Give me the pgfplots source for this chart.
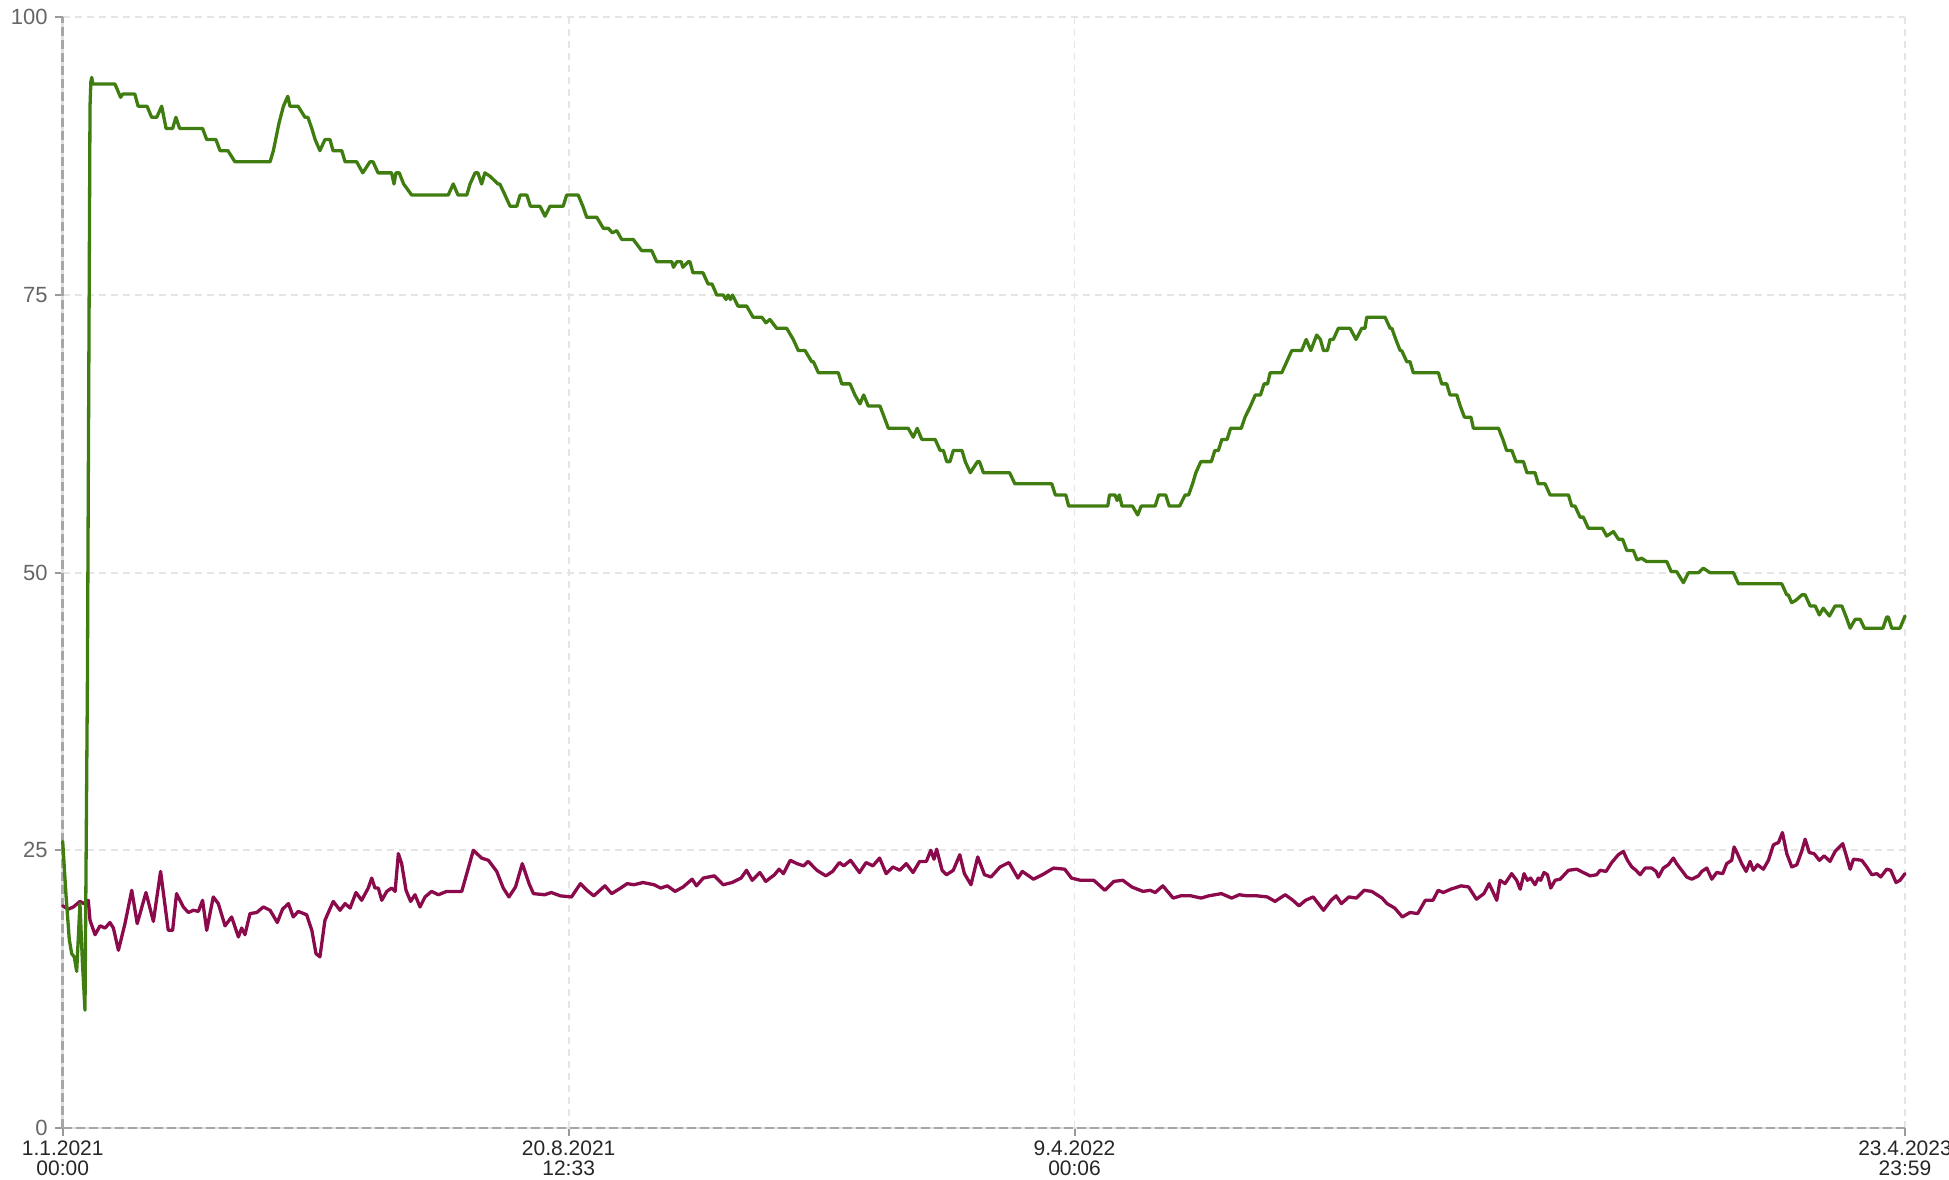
\documentclass[border=0pt]{standalone}
\usepackage{fontspec}
\setmainfont{Liberation Sans}
\usepackage{pgfplots}
\pgfplotsset{compat=1.18}
\definecolor{gline}{RGB}{63,125,17}
\definecolor{rline}{RGB}{138,10,75}
\newcommand{\yfont}{\fontsize{11}{13}\selectfont}
\newcommand{\xfont}{\fontsize{10.5}{10}\selectfont}
\begin{document}
\begin{tikzpicture}
\useasboundingbox (-31.35pt,-26pt) rectangle (943.2pt,564pt);
\begin{axis}[
  scale only axis, width=921.2pt, height=555.3pt,
  xmin=0, xmax=843, ymin=0, ymax=100,
  axis lines=left,
  axis line style={-, draw=black!35, line width=1.4pt, dash pattern=on 4.5pt off 2pt,
    preaction={draw=black!12, solid, line width=1.4pt}},
  xtick={0,231.523,463.004,842.999},
  xticklabels={{1.1.2021\\00:00},{20.8.2021\\12:33},{9.4.2022\\00:06},{23.4.2023\\23:59}},
  xticklabel style={align=center, font=\xfont, text=black!85, yshift=1pt},
  ytick={0,25,50,75,100},
  yticklabel style={font=\yfont, text=black!60},
  /pgf/number format/assume math mode=true,
  tick align=outside, major tick length=4pt,
  tick style={draw=black!40, line width=1pt},
  grid=major,
  major grid style={draw=black!10, line width=0.9pt, dash pattern=on 3.5pt off 2.5pt},
  clip=false,
]
\addplot[rline, line width=1.65pt, line join=round, line cap=round, mark=none] coordinates {
(0,20.0) (2.6,19.7) (4.9,19.9) (7.9,20.4) (9.7,20.2) (11.7,20.5) (12.5,18.7) (14.8,17.4) (17.1,18.2) (19.4,18.0) (21.6,18.5) (23.2,18.0) (25.5,16.0) (28.5,18.4) (31.6,21.4) (34.1,18.4) (38.1,21.2) (41.5,18.6) (44.8,23.1) (48.3,17.8) (50.3,17.8) (52.1,21.1) (55.2,19.9) (57.5,19.4) (59.8,19.6) (62.1,19.5) (64.0,20.5) (65.9,17.8) (68.9,20.8) (71.2,20.2) (74.3,18.2) (77.3,19.0) (80.4,17.2) (81.9,18.0) (83.4,17.4) (85.7,19.3) (88.8,19.4) (91.8,19.9) (94.9,19.6) (98.2,18.5) (100.6,19.7) (103.3,20.2) (105.5,19.0) (107.8,19.5) (111.6,19.2) (114.0,17.8) (115.9,15.7) (117.7,15.4) (120.0,18.7) (123.8,20.4) (126.9,19.6) (129.2,20.2) (131.5,19.8) (134.2,21.2) (136.8,20.5) (139.8,21.6) (141.4,22.5) (142.9,21.6) (144.4,21.6) (146.0,20.5) (148.3,21.3) (150.5,21.6) (152.1,21.3) (153.6,24.7) (155.1,23.8) (157.1,21.4) (159.2,20.4) (161.2,21.0) (163.5,19.9) (165.8,20.8) (168.8,21.3) (171.9,21.0) (175.7,21.3) (182.6,21.3) (187.9,25.0) (191.7,24.3) (194.8,24.1) (198.6,23.1) (201.6,21.6) (204.2,20.8) (207.2,21.7) (210.3,23.8) (213.4,22.0) (215.4,21.1) (220.5,21.0) (223.6,21.2) (227.7,20.9) (232.8,20.8) (236.9,22.0) (239.9,21.4) (243.0,20.9) (248.1,21.8) (251.2,21.1) (255.3,21.6) (258.3,22.0) (261.4,21.9) (265.5,22.1) (270.6,21.9) (273.6,21.6) (276.7,21.8) (280.2,21.3) (283.9,21.7) (288.0,22.4) (290.0,21.8) (293.1,22.5) (298.2,22.7) (302.2,21.9) (306.3,22.1) (310.4,22.5) (312.9,23.2) (315.5,22.3) (319.0,23.0) (321.7,22.2) (325.7,22.8) (327.8,23.3) (329.8,22.9) (332.9,24.1) (336.0,23.8) (339.0,23.6) (341.1,24.0) (345.1,23.2) (349.2,22.7) (352.3,23.1) (355.4,23.9) (357.4,23.6) (360.5,24.1) (364.6,23.0) (367.6,23.9) (370.7,23.6) (373.8,24.3) (376.8,22.9) (379.9,23.5) (383.0,23.2) (386.0,23.8) (389.1,23.0) (392.1,24.0) (395.2,24.0) (397.2,25.0) (398.7,24.2) (399.9,25.1) (402.4,23.2) (404.4,22.8) (407.5,23.2) (410.5,24.6) (412.6,22.9) (415.6,21.9) (418.7,24.4) (421.8,22.8) (424.8,22.6) (428.9,23.5) (433.0,23.9) (437.1,22.5) (439.1,23.1) (444.2,22.4) (448.3,22.8) (453.4,23.4) (458.5,23.3) (461.6,22.5) (465.7,22.3) (471.8,22.3) (476.9,21.4) (481.0,22.2) (485.1,22.3) (489.2,21.7) (494.3,21.3) (497.6,21.4) (499.9,21.2) (503.4,21.8) (508.1,20.7) (511.6,20.9) (516.3,20.9) (520.9,20.7) (524.4,20.9) (530.2,21.1) (534.9,20.7) (538.4,21.0) (541.9,20.9) (546.6,20.9) (551.2,20.8) (554.7,20.4) (559.4,21.0) (562.9,20.5) (565.7,20.0) (568.7,20.5) (572.2,20.8) (576.9,19.6) (580.4,20.5) (582.7,20.9) (585.1,20.2) (588.5,20.8) (592.0,20.7) (595.5,21.4) (599.0,21.3) (603.7,20.7) (606.0,20.2) (609.5,19.8) (613.0,19.0) (616.5,19.4) (620.0,19.3) (623.5,20.5) (627.0,20.5) (629.4,21.4) (631.7,21.2) (635.2,21.5) (639.9,21.8) (643.3,21.7) (646.9,20.6) (650.3,21.1) (652.7,22.0) (656.2,20.5) (657.7,22.3) (660.0,22.0) (663.0,22.9) (665.3,22.3) (666.9,21.5) (668.7,22.9) (670.2,22.3) (671.7,22.5) (673.7,21.9) (675.2,22.5) (676.3,22.3) (677.8,23.0) (679.4,22.8) (680.9,21.6) (682.9,22.3) (685.2,22.4) (689.0,23.2) (692.8,23.3) (695.8,23.0) (698.9,22.7) (701.9,22.8) (703.5,23.2) (706.2,23.1) (708.8,23.9) (711.8,24.6) (714.1,24.9) (716.0,24.1) (718.0,23.5) (719.9,23.2) (721.8,22.8) (724.1,23.4) (727.1,23.4) (729.1,23.1) (730.2,22.6) (732.4,23.4) (734.7,23.7) (737.0,24.3) (738.5,23.8) (740.8,23.2) (743.1,22.6) (745.4,22.4) (748.5,22.7) (750.0,23.1) (752.3,23.4) (754.6,22.4) (756.8,23.0) (759.6,22.9) (761.4,23.8) (763.7,24.1) (764.8,25.3) (766.3,24.7) (768.3,23.8) (770.3,23.1) (772.1,24.0) (773.6,23.2) (775.5,23.7) (778.2,23.3) (780.5,24.1) (782.8,25.5) (785.1,25.7) (786.9,26.6) (788.9,24.7) (791.2,23.5) (793.5,23.7) (795.7,24.9) (797.3,26.0) (799.2,24.8) (801.4,24.7) (803.8,24.1) (806.0,24.5) (808.7,24.0) (811.0,24.9) (814.5,25.6) (816.3,24.4) (817.9,23.3) (819.4,24.2) (823.2,24.1) (825.5,23.5) (827.8,22.8) (830.1,22.9) (831.9,22.6) (834.6,23.3) (836.5,23.2) (838.9,22.1) (840.7,22.3) (843,22.9)
};
\addplot[gline, line width=1.65pt, line join=round, line cap=round, mark=none] coordinates {
(0,25.8) (1.5,21) (3,17) (4.1,15.7) (5.3,15.4) (6.4,14.1) (7.9,20.2) (9.0,15) (10.2,10.6) (11.3,40) (12.5,92) (12.9,94.2) (13.3,94.6) (13.8,94.0) (23.9,94.0) (25,93.5) (26.5,92.8) (27.5,93.1) (33,93.1) (34.5,92.0) (38.6,92.0) (40.7,91.0) (43,91.0) (45.3,92.0) (47.3,90.0) (50.3,90.0) (51.8,91.0) (53.5,90.0) (64,90.0) (65.9,89.0) (70.1,89.0) (72,88.0) (75.6,88.0) (78.8,87.0) (94.9,87.0) (96.4,88.0) (99,90.5) (101,92.0) (103,92.9) (104,92.0) (107.7,92.0) (110.9,91.0) (112.2,91.0) (114,90) (115.5,89.0) (117.7,88.0) (120,89.0) (122.3,89.0) (123.7,88.0) (127.7,88.0) (129.2,87.0) (134.5,87.0) (137.3,86.0) (140.6,87.0) (142,87.0) (144.3,86.0) (150.5,86.0) (151.6,85.0) (152.5,86.0) (154,86.0) (156,85.0) (159.7,84.0) (176.4,84.0) (178.7,85.0) (180.9,84.0) (184.9,84.0) (186.4,85.0) (188.7,86.0) (190,86.0) (191.7,85.0) (193.2,86.0) (195.5,85.7) (199.2,85.0) (200,85.0) (202.4,84.0) (204.7,83.0) (207.8,83.0) (209.3,84.0) (212.4,84.0) (214,83.0) (218.4,83.0) (220.7,82.1) (223,83.0) (229,83.0) (230.6,84.0) (235.9,84.0) (238,83.0) (239.8,82.0) (244.4,82.0) (247.4,81.0) (249.7,81.0) (251.5,80.6) (253.5,80.8) (255.8,80.0) (261.1,80.0) (264.9,79.0) (269.5,79.0) (271.8,78.0) (278.7,78.0) (279.5,77.5) (281,78.0) (283,78.0) (283.8,77.5) (286.2,78.0) (287,78.0) (288.4,77.0) (293,77.0) (295.3,76.0) (297.1,76.0) (299.3,75.0) (302.2,75.0) (303.5,74.6) (304.5,75.0) (305.5,74.6) (306.5,75) (309,74.0) (313,74.0) (315.9,73.0) (319.9,73.0) (321.8,72.5) (323.6,72.8) (326.7,72.0) (331.3,72.0) (334.3,71.0) (336.6,70.0) (339.7,70.0) (342.7,69.0) (343.5,69.0) (345.8,68.0) (354.9,68.0) (356.5,67.0) (360.3,67.0) (362.5,66.0) (364.8,65.2) (366.5,66.0) (368.6,65.0) (374,65.0) (377.8,63.0) (386.9,63.0) (389.2,62.2) (391,63.0) (393.1,62.0) (399.2,62.0) (401.5,61.0) (403,61.0) (404.5,60.0) (406,60.0) (407.5,61.0) (411.5,61.0) (413,60.0) (415.3,59.0) (418.6,60.0) (419.5,60.0) (421.3,59.0) (433.3,59.0) (435.7,58.0) (452.6,58.0) (454.2,57.0) (459,57.0) (460.3,56.0) (478.2,56.0) (479,57.0) (481.5,57.0) (482.5,56.5) (483.5,57.0) (484.7,56.0) (489.5,56.0) (491.9,55.2) (493.5,56.0) (499.9,56.0) (501.5,57.0) (504.7,57.0) (506.3,56.0) (511.1,56.0) (513.6,57.0) (515.2,57.0) (517,58.0) (518.5,59.0) (520.8,60.0) (525.6,60.0) (527.2,61.0) (528.8,61.0) (530.4,62.0) (532.8,62.0) (534.4,63.0) (539.3,63.0) (541,64.0) (543.5,65.0) (545.7,66.0) (548.1,66.0) (549.7,67.0) (551.3,67.0) (552.5,68.0) (557.8,68.0) (560.1,69.0) (562.4,70.0) (566.9,70.0) (569,71.0) (571.1,70.0) (573.8,71.4) (575.5,71.0) (576.9,70.0) (578.7,70.0) (579.9,71.0) (581.4,71.0) (583.7,72.0) (589.1,72.0) (591.8,71.0) (594.4,72.0) (595.9,72.0) (596.7,73.0) (605.1,73.0) (607.4,72.0) (608.2,72.0) (610,71.0) (612,70.0) (612.7,70.0) (615,69.0) (616.5,69.0) (618,68.0) (629.5,68.0) (631,67.0) (633.3,67.0) (634.8,66.0) (637.9,66.0) (639.5,65.0) (641.4,64.0) (644.4,64.0) (645.5,63.0) (657,63.0) (659,62.0) (660.7,61.0) (663.1,61.0) (665,60.0) (668.4,60.0) (670,59.0) (673.7,59.0) (675.2,58.0) (678.3,58.0) (680.6,57.0) (689,57.0) (690.5,56.0) (692,56.0) (694.3,55.0) (695.8,55.0) (698.1,54.0) (704.5,54.0) (706.5,53.3) (709.6,53.7) (711.9,53.0) (713.8,53.0) (715.7,52.0) (718.7,52.0) (720.4,51.15) (722.5,51.3) (724.8,51.0) (734,51.0) (736,50.1) (738.5,50.1) (741.6,49.1) (743.9,50.0) (748.5,50.0) (750.7,50.4) (753.8,50.0) (764.5,50.0) (766.8,49.0) (786.6,49.0) (788.9,48.0) (789.6,48.0) (791.1,47.3) (793,47.5) (795.8,48.0) (797.3,48.0) (799.6,47.0) (801.9,47.0) (803.8,46.2) (805.6,46.8) (808.4,46.1) (811,47.0) (814.1,47.0) (816.1,46.0) (817.9,45.0) (820.2,45.8) (822.5,45.8) (824.4,45.0) (832.9,45.0) (834.6,46.0) (835.4,46.0) (836.9,45.0) (840.7,45.0) (843,46.1)
};
\end{axis}
\end{tikzpicture}
\end{document}
